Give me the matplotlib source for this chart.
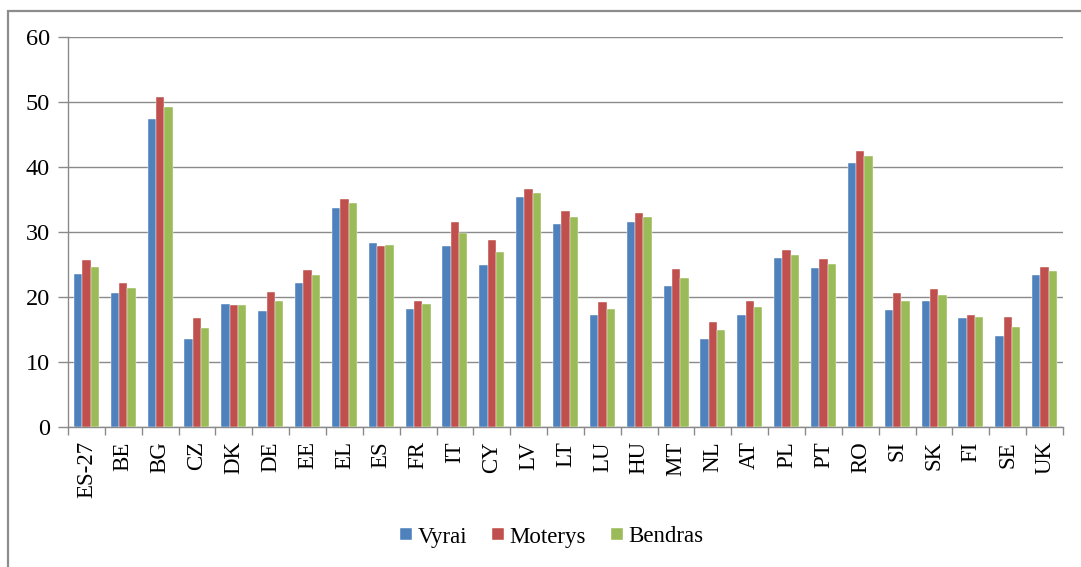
import matplotlib
matplotlib.use("Agg")
import matplotlib.pyplot as plt
import matplotlib.patches as patches
import numpy as np

# Duomenys
salys = ['ES-27', 'BE', 'BG', 'CZ', 'DK', 'DE', 'EE', 'EL', 'ES', 'FR', 'IT', 'CY', 'LV', 'LT',
         'LU', 'HU', 'MT', 'NL', 'AT', 'PL', 'PT', 'RO', 'SI', 'SK', 'FI', 'SE', 'UK']
vyrai = [23.5, 20.7, 47.4, 13.5, 18.95, 17.9, 22.1, 33.7, 28.25, 18.2, 27.9, 24.9, 35.3, 31.2,
         17.2, 31.6, 21.75, 13.5, 17.2, 25.95, 24.4, 40.55, 18.05, 19.45, 16.85, 14.0, 23.35]
moterys = [25.65, 22.1, 50.7, 16.85, 18.75, 20.85, 24.2, 35.1, 27.9, 19.45, 31.6, 28.8, 36.65, 33.3,
           19.3, 32.9, 24.3, 16.1, 19.45, 27.2, 25.8, 42.45, 20.7, 21.2, 17.2, 17.0, 24.7]
bendras = [24.6, 21.4, 49.15, 15.25, 18.75, 19.45, 23.35, 34.4, 28.05, 18.95, 29.9, 27.0, 36.0, 32.3,
           18.2, 32.3, 23.0, 14.9, 18.45, 26.5, 25.1, 41.6, 19.45, 20.3, 17.0, 15.4, 24.0]
serijos = ['Vyrai', 'Moterys', 'Bendras']
spalvos = ['#4F81BD', '#C0504D', '#9BBB59']

plt.rcParams['font.family'] = ['Liberation Serif', 'DejaVu Serif']

fig = plt.figure(figsize=(10.81, 5.67), dpi=100)
ax = fig.add_axes([68 / 1081, 1 - 427.3 / 567, (1063 - 68) / 1081, (427.3 - 36.7) / 567])

# rėmelis aplink diagramą
fig.patches.append(patches.Rectangle((8 / 1081, -0.1), 1.2, 1 - 11 / 567 + 0.1,
                                     transform=fig.transFigure, fill=False,
                                     edgecolor='#8c8c8c', linewidth=1.6))

x = np.arange(len(salys))
plotis = 0.226
for i, (reiksmes, pav, sp) in enumerate(zip([vyrai, moterys, bendras], serijos, spalvos)):
    ax.bar(x + (i - 1) * plotis, reiksmes, plotis, color=sp, label=pav,
           edgecolor='white', linewidth=0.3, zorder=3)

ax.set_xlim(-0.5, len(salys) - 0.5)
ax.set_ylim(0, 60)
ax.set_yticks(range(0, 61, 10))
ax.yaxis.grid(True, color='#8a8a8a', linewidth=1.0, zorder=0)

ax.set_xticks(x)
ax.set_xticklabels(salys, rotation=90, fontsize=16.5)
ax.set_xticks(np.arange(-0.5, len(salys), 1.0), minor=True)
ax.tick_params(axis='x', which='major', length=0, pad=10)
ax.tick_params(axis='x', which='minor', length=6, color='#8a8a8a', width=1)
ax.tick_params(axis='y', length=7, color='#8a8a8a', width=1, labelsize=17.5, pad=6)

for s in ['top', 'right']:
    ax.spines[s].set_visible(False)
for s in ['left', 'bottom']:
    ax.spines[s].set_color('#8a8a8a')
    ax.spines[s].set_linewidth(1.0)

ax.legend(loc='center', bbox_to_anchor=(552 / 1081, 1 - 537 / 567),
          bbox_transform=fig.transFigure, ncol=3, frameon=False, fontsize=16.5,
          handlelength=0.5, handleheight=0.45, handletextpad=0.26, columnspacing=1.1)

fig.savefig('out.png', dpi=100)
